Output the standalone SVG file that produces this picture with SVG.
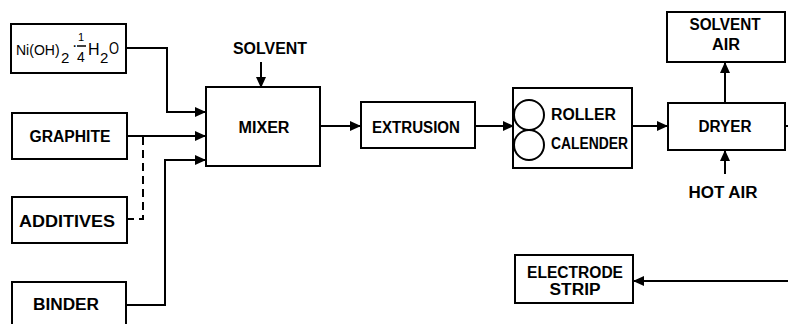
<svg xmlns="http://www.w3.org/2000/svg" width="788" height="324" viewBox="0 0 788 324">
<style>
.box{fill:#fff;stroke:#000;stroke-width:2}
.ln{fill:none;stroke:#000;stroke-width:2}
.dash{fill:none;stroke:#000;stroke-width:2;stroke-dasharray:8,5}
text{font-family:"Liberation Sans",Arial,sans-serif;font-weight:bold;font-size:16px;fill:#000}
.c{text-anchor:middle}
.f{font-weight:normal}
</style>
<defs>
<marker id="ah" markerUnits="userSpaceOnUse" markerWidth="11" markerHeight="10" refX="10" refY="5" orient="auto">
<path d="M0,0 L11,5 L0,10 z" fill="#000"/>
</marker>
</defs>
<g id="connectors">
<polyline class="ln" points="126,48 167,48 167,112 205,112" marker-end="url(#ah)"/>
<line class="ln" x1="127" y1="136" x2="205" y2="136" marker-end="url(#ah)"/>
<polyline class="dash" points="143,137 143,219 128,219"/>
<polyline class="ln" points="126,305 165,305 165,160 205,160" marker-end="url(#ah)"/>
<line class="ln" x1="261" y1="62" x2="261" y2="87" marker-end="url(#ah)"/>
<line class="ln" x1="320" y1="126" x2="360" y2="126" marker-end="url(#ah)"/>
<line class="ln" x1="475" y1="126" x2="513" y2="126" marker-end="url(#ah)"/>
<line class="ln" x1="632" y1="126" x2="667" y2="126" marker-end="url(#ah)"/>
<line class="ln" x1="725" y1="103" x2="725" y2="63" marker-end="url(#ah)"/>
<line class="ln" x1="725" y1="174" x2="725" y2="151" marker-end="url(#ah)"/>
<line class="ln" x1="785" y1="126" x2="788" y2="126"/>
<line class="ln" x1="788" y1="281" x2="634" y2="281" marker-end="url(#ah)"/>
</g>
<g id="nioh">
<rect class="box" x="11" y="24" width="115" height="49"/>
<text class="f" x="16" y="55" style="font-size:14px">Ni(OH)</text>
<text class="f" x="61" y="63" style="font-size:15px">2</text>
<text class="f" x="72" y="51">·</text>
<text class="f" x="78" y="41" style="font-size:11px">1</text>
<line x1="77" y1="46" x2="86" y2="46" stroke="#000" stroke-width="1.5"/>
<text class="f" x="77" y="62" style="font-size:14px">4</text>
<text class="f" x="88" y="55">H</text>
<text class="f" x="100" y="63" style="font-size:15px">2</text>
<text class="f" x="109" y="54" textLength="10" lengthAdjust="spacingAndGlyphs">O</text>
</g>
<g id="graphite">
<rect class="box" x="12" y="113" width="115" height="46"/>
<text class="c" x="70" y="142" textLength="81" lengthAdjust="spacingAndGlyphs">GRAPHITE</text>
</g>
<g id="additives">
<rect class="box" x="12" y="197" width="115" height="46"/>
<text class="c" x="67" y="227" textLength="96" lengthAdjust="spacingAndGlyphs">ADDITIVES</text>
</g>
<g id="binder">
<rect class="box" x="12" y="282" width="114" height="50"/>
<text class="c" x="66" y="310" textLength="66" lengthAdjust="spacingAndGlyphs">BINDER</text>
</g>
<g id="solvent">
<text class="c" x="270" y="54" textLength="74" lengthAdjust="spacingAndGlyphs">SOLVENT</text>
</g>
<g id="mixer">
<rect class="box" x="206" y="87" width="114" height="79"/>
<text class="c" x="264" y="133" textLength="51" lengthAdjust="spacingAndGlyphs">MIXER</text>
</g>
<g id="extrusion">
<rect class="box" x="361" y="102" width="114" height="46"/>
<text class="c" x="416" y="133" textLength="88" lengthAdjust="spacingAndGlyphs">EXTRUSION</text>
</g>
<g id="roller">
<rect class="box" x="513" y="88" width="119" height="80"/>
<circle class="ln" cx="529" cy="115" r="15"/>
<circle class="ln" cx="529" cy="145" r="15"/>
<text x="551" y="120" textLength="65" lengthAdjust="spacingAndGlyphs">ROLLER</text>
<text x="551" y="149" textLength="77" lengthAdjust="spacingAndGlyphs">CALENDER</text>
</g>
<g id="dryer">
<rect class="box" x="668" y="103" width="117" height="47"/>
<text class="c" x="725" y="132" textLength="53" lengthAdjust="spacingAndGlyphs">DRYER</text>
</g>
<g id="solventair">
<rect class="box" x="667" y="12" width="118" height="50"/>
<text class="c" x="725" y="30" textLength="71" lengthAdjust="spacingAndGlyphs">SOLVENT</text>
<text class="c" x="726" y="50" textLength="28" lengthAdjust="spacingAndGlyphs">AIR</text>
</g>
<g id="hotair">
<text class="c" x="723" y="198" textLength="69" lengthAdjust="spacingAndGlyphs">HOT AIR</text>
</g>
<g id="electrode">
<rect class="box" x="515" y="255" width="118" height="48"/>
<text class="c" x="575" y="278" textLength="96" lengthAdjust="spacingAndGlyphs">ELECTRODE</text>
<text class="c" x="575" y="295" textLength="51" lengthAdjust="spacingAndGlyphs">STRIP</text>
</g>
</svg>
